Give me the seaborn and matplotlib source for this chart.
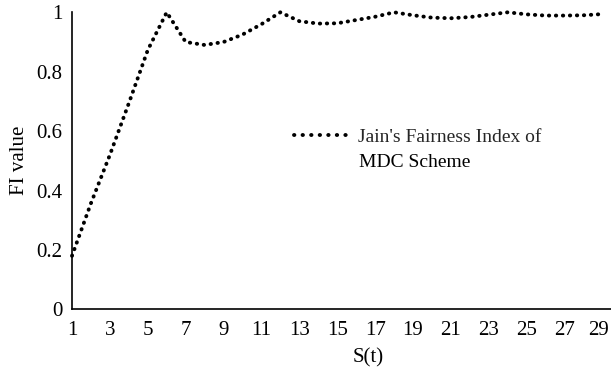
import matplotlib
matplotlib.use("Agg")
import matplotlib.pyplot as plt
import matplotlib.transforms as mtransforms
import pandas as pd
import seaborn as sns

# Fairness index per time slot
slots = list(range(1, 30))
fairness = [0.18, 0.357, 0.52, 0.694, 0.873, 1.0, 0.90, 0.89, 0.90, 0.925,
            0.96, 1.0, 0.97, 0.962, 0.963, 0.974, 0.985, 1.0, 0.99, 0.982,
            0.98, 0.984, 0.992, 1.0, 0.993, 0.989, 0.989, 0.99, 0.994]
x_tick_values = list(range(1, 30, 2))
x_minor_values = list(range(2, 30, 2))
y_tick_values = [0, 0.2, 0.4, 0.6, 0.8, 1]
y_tick_labels = ["0", "0.2", "0.4", "0.6", "0.8", "1"]
legend_line1 = "Jain's Fairness Index of"
legend_line2 = "MDC Scheme"

sns.set_theme(style="white")
plt.rcParams["font.family"] = ["Liberation Serif", "DejaVu Serif"]

FS = 15
LEG_FS = 14
df = pd.DataFrame({"S(t)": slots, "FI value": fairness})

W, H = 611, 367
fig = plt.figure(figsize=(W / 100, H / 100), dpi=100)
ax = fig.add_axes([72 / W, 1 - 309.3 / H, (W - 72) / W, (309.3 - 12.3) / H])

sns.lineplot(data=df, x="S(t)", y="FI value", color="black",
             linewidth=2.8, ax=ax)
line = ax.lines[0]
line.set_linestyle((0, (0.1, 1.7)))
line.set_dash_capstyle("round")
line.set_clip_on(False)

ax.set_xlim(1, 29.45)
ax.set_ylim(0, 1)
ax.set_xticks(x_tick_values)
ax.set_xticks(x_minor_values, minor=True)
ax.set_yticks(y_tick_values)
ax.set_yticklabels(y_tick_labels)

for side in ("top", "right"):
    ax.spines[side].set_visible(False)
for side in ("left", "bottom"):
    ax.spines[side].set_color("black")
    ax.spines[side].set_linewidth(1.2)

ax.tick_params(axis="both", which="both", direction="in", length=5,
               width=1.1, color="black", labelsize=FS, labelcolor="black")
ax.tick_params(axis="x", which="both", pad=8.5)
ax.tick_params(axis="y", which="both", pad=7)

# nudge the last x label so it stays inside the canvas
last_label = ax.get_xticklabels()[-1]
last_label.set_transform(last_label.get_transform() +
                         mtransforms.ScaledTranslation(-4 / 100, 0, fig.dpi_scale_trans))

ax.set_xlabel("S(t)", fontsize=FS, color="black")
ax.set_ylabel("FI value", fontsize=FS, color="black")
ax.xaxis.set_label_coords(0.549, -0.13)
ax.yaxis.set_label_coords(-0.08, 0.5)

leg = ax.legend(handles=[line], labels=[legend_line1], loc="upper left",
                bbox_to_anchor=(294 / W, 1 - 128 / H),
                bbox_transform=fig.transFigure, frameon=False,
                fontsize=LEG_FS, borderpad=0, borderaxespad=0,
                handlelength=2.8, handletextpad=0.5)
handle = leg.legend_handles[0]
handle.set_linestyle((0, (0.1, 2.1)))
handle.set_dash_capstyle("round")

# second line of the legend label
fig.text(359 / W, 1 - 167 / H, legend_line2, ha="left", va="baseline",
         fontsize=LEG_FS, color="black")

fig.savefig("out.png", dpi=100, facecolor="white")
